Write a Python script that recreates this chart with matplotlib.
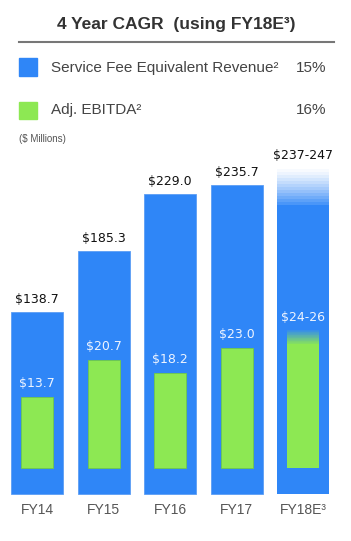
import numpy as np
import matplotlib
matplotlib.use("Agg")
import matplotlib.pyplot as plt
from matplotlib.colors import to_rgb

# data ($ millions)
years = ["FY14", "FY15", "FY16", "FY17", "FY18E³"]
revenue = [138.7, 185.3, 229.0, 235.7]
revenue_fy18 = (237, 247)
ebitda = [13.7, 20.7, 18.2, 23.0]
ebitda_fy18 = (24, 26)
rev_labels = ["$138.7", "$185.3", "$229.0", "$235.7", "$237-247"]
ebitda_labels = ["$13.7", "$20.7", "$18.2", "$23.0", "$24-26"]
cagr_rev = "15%"
cagr_ebitda = "16%"

BLUE = "#2F86F7"
GREEN = "#8DE853"
W, H = 351, 541

fig = plt.figure(figsize=(W / 100, H / 100), dpi=100)

def fx(px):
    return px / W

def fy(py):
    return 1 - py / H

# axes map: index i -> pixel 37 + 66.6*i
step = 66.6
xlim = (-37 / step, (W - 37) / step)

ax = fig.add_axes([0, 0, 1, 1])
ax.set_xlim(*xlim)
ax.set_ylim(-47 / 1.312, (H - 47) / 1.312)
ax.axis("off")

ax2 = fig.add_axes([0, 0, 1, 1], sharex=ax)
ax2.set_ylim(-73 / 5.2, (H - 73) / 5.2)
ax2.axis("off")
ax2.patch.set_alpha(0)

x = np.arange(len(years))
bw, gw = 0.78, 0.48

# blue bars
ax.bar(x[:4], revenue, width=bw, color=BLUE, edgecolor="#5C9EF5", linewidth=0.6)
solid18 = 220  # where the FY18 estimate starts to fade
ax.bar(x[4], solid18, width=bw, color=BLUE, linewidth=0)
n = 12
grad = np.zeros((n, 1, 4))
grad[:, 0, :3] = to_rgb(BLUE)
grad[:, 0, 3] = np.linspace(0.9, 0.08, n) ** 1.3
ax.imshow(grad, extent=[x[4] - bw / 2, x[4] + bw / 2, solid18, revenue_fy18[1]],
          origin="lower", aspect="auto", interpolation="nearest", zorder=2)

# green bars
ax2.bar(x[:4], ebitda, width=gw, color=GREEN, edgecolor="#6FC84A", linewidth=0.6, zorder=3)
ax2.bar(x[4], 23.6, width=gw, color=GREEN, linewidth=0, zorder=3)
ggrad = np.zeros((20, 1, 4))
ggrad[:, 0, :3] = to_rgb(GREEN)
ggrad[:, 0, 3] = np.linspace(1.0, 0.1, 20)
ax2.imshow(ggrad, extent=[x[4] - gw / 2, x[4] + gw / 2, 23.6, 26.3],
           origin="lower", aspect="auto", interpolation="nearest", zorder=3)
ax2.set_xlim(*xlim)

# value labels
tops = revenue + [revenue_fy18[1] + 1.5]
for i, (t, lab) in enumerate(zip(tops, rev_labels)):
    ax.annotate(lab, (x[i], t), xytext=(0, 4), textcoords="offset points",
                ha="center", va="bottom", fontsize=9, color="#111111")
gtops = ebitda + [26.3]
for i, (t, lab) in enumerate(zip(gtops, ebitda_labels)):
    ax2.annotate(lab, (x[i], t), xytext=(0, 5), textcoords="offset points",
                 ha="center", va="bottom", fontsize=9, color="#EEF4FF", zorder=5)

# category labels
for i, lab in enumerate(years):
    ax.text(x[i], -12, lab, ha="center", va="center", fontsize=10,
            family="Liberation Sans", color="#555555")

# header and legend
fig.text(fx(176), fy(25), "4 Year CAGR  (using FY18E³)", ha="center", va="center",
         fontsize=12.5, fontweight="bold", family="Liberation Sans", color="#333333")
fig.add_artist(plt.Line2D([fx(19), fx(334)], [fy(42), fy(42)], color="#777777", lw=1.5))
fig.add_artist(plt.Rectangle((fx(19), fy(76)), 18 / W, 18 / H, color=BLUE))
fig.add_artist(plt.Rectangle((fx(19), fy(119)), 18 / W, 17 / H, color=GREEN))
fig.text(fx(51), fy(68), "Service Fee Equivalent Revenue²", ha="left", va="center",
         fontsize=11, family="Liberation Sans", color="#444444")
fig.text(fx(326), fy(68), cagr_rev, ha="right", va="center",
         fontsize=11, family="Liberation Sans", color="#444444")
fig.text(fx(51), fy(110), "Adj. EBITDA²", ha="left", va="center",
         fontsize=11, family="Liberation Sans", color="#444444")
fig.text(fx(326), fy(110), cagr_ebitda, ha="right", va="center",
         fontsize=11, family="Liberation Sans", color="#444444")
fig.text(fx(19), fy(139), "($ Millions)", ha="left", va="center",
         fontsize=7, family="Liberation Sans", color="#555555")

fig.savefig("out.png", dpi=100)
